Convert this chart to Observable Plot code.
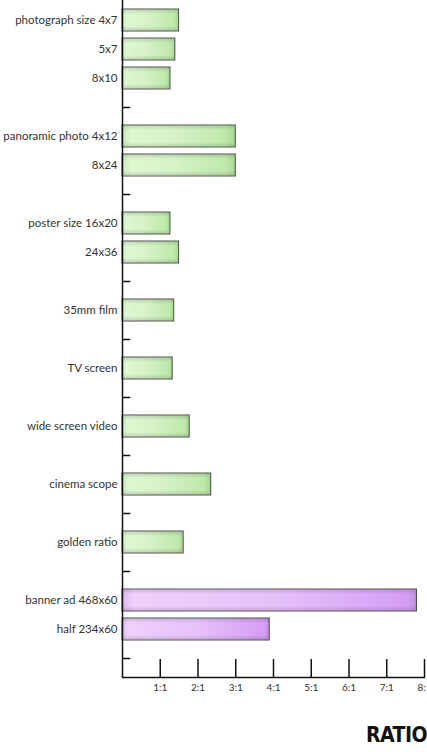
<!DOCTYPE html>
<html>
<head>
<meta charset="utf-8">
<script src="https://cdn.jsdelivr.net/npm/d3@7"></script>
<script src="https://cdn.jsdelivr.net/npm/@observablehq/plot@0.6"></script>
<style>
  html, body { margin: 0; padding: 0; background: #fff; overflow: hidden; }
  #chart { width: 427px; }
  #title { width: 427px; text-align: right; font-family: "DejaVu Sans Condensed", "DejaVu Sans", sans-serif; font-weight: bold; font-size: 21px; color: #111; margin-top: 23px; letter-spacing: -0.5px; }
</style>
</head>
<body>
<div id="chart"></div>
<div id="title">RATIO</div>
<script>
// Categories (top to bottom), separators are empty slots with a small tick
const categories = [
  "photograph size 4x7", "5x7", "8x10", "sep1",
  "panoramic photo 4x12", "8x24", "sep2",
  "poster size 16x20", "24x36", "sep3",
  "35mm film", "sep4",
  "TV screen", "sep5",
  "wide screen video", "sep6",
  "cinema scope", "sep7",
  "golden ratio", "sep8",
  "banner ad 468x60", "half 234x60", "sep9"
];
const barNames = [
  "photograph size 4x7", "5x7", "8x10",
  "panoramic photo 4x12", "8x24",
  "poster size 16x20", "24x36",
  "35mm film", "TV screen", "wide screen video", "cinema scope", "golden ratio",
  "banner ad 468x60", "half 234x60"
];
const ratios = [1.5, 1.4, 1.27, 3.0, 3.0, 1.27, 1.5, 1.37, 1.33, 1.78, 2.35, 1.62, 7.8, 3.9];
const groups = ["print", "print", "print", "print", "print", "print", "print", "print", "print", "print", "print", "print", "web", "web"];
const separators = ["sep1", "sep2", "sep3", "sep4", "sep5", "sep6", "sep7", "sep8", "sep9"];
const xTicks = [1, 2, 3, 4, 5, 6, 7, 8];
const xTickLabels = ["1:1", "2:1", "3:1", "4:1", "5:1", "6:1", "7:1", "8:1"];

const bars = barNames.map((name, i) => ({name, ratio: ratios[i], group: groups[i]}));

const defs = () => {
  const ns = "http://www.w3.org/2000/svg";
  const d = document.createElementNS(ns, "defs");
  d.innerHTML = `
    <linearGradient id="gGreen" x1="0" x2="1" y1="0" y2="0">
      <stop offset="0" stop-color="#c8ecb6"/>
      <stop offset="0.08" stop-color="#def7d2"/>
      <stop offset="0.45" stop-color="#d6f3c8"/>
      <stop offset="0.92" stop-color="#bfe8ab"/>
      <stop offset="1" stop-color="#a9d893"/>
    </linearGradient>
    <linearGradient id="gPurple" x1="0" x2="1" y1="0" y2="0">
      <stop offset="0" stop-color="#dcb6ee"/>
      <stop offset="0.04" stop-color="#f0d0fc"/>
      <stop offset="0.5" stop-color="#e6c2fa"/>
      <stop offset="0.97" stop-color="#d59ef5"/>
      <stop offset="1" stop-color="#c08ade"/>
    </linearGradient>
    <linearGradient id="gShade" x1="0" x2="0" y1="0" y2="1">
      <stop offset="0" stop-color="#000" stop-opacity="0.12"/>
      <stop offset="0.2" stop-color="#000" stop-opacity="0"/>
      <stop offset="0.8" stop-color="#000" stop-opacity="0"/>
      <stop offset="1" stop-color="#000" stop-opacity="0.12"/>
    </linearGradient>`;
  return d;
};

const chart = Plot.plot({
  width: 427,
  height: 700,
  marginLeft: 122,
  marginRight: 3,
  marginTop: 2,
  marginBottom: 23,
  style: {fontFamily: "Lato, 'Open Sans', sans-serif", color: "#333", background: "#fff", overflow: "hidden"},
  x: {domain: [0, 8], ticks: xTicks, tickFormat: (d) => xTickLabels[xTicks.indexOf(d)], label: null},
  y: {domain: categories, padding: 0.24, label: null},
  marks: [
    defs,
    Plot.barX(bars, {
      y: "name", x: "ratio",
      fill: (d) => d.group === "web" ? "url(#gPurple)" : "url(#gGreen)",
      stroke: "#4a4a4a", strokeWidth: 1
    }),
    Plot.barX(bars, {y: "name", x: "ratio", fill: "url(#gShade)", insetTop: 1, insetBottom: 1, insetLeft: 1, insetRight: 1}),
    Plot.ruleY(separators, {y: (d) => d, x1: 0, x2: 0.22, stroke: "#111", strokeWidth: 1.5}),
    Plot.ruleX(xTicks, {x: (d) => d, insetTop: 657, stroke: "#111", strokeWidth: 1.5}),
    Plot.ruleX([0], {stroke: "#111", strokeWidth: 1.5, insetTop: -2}),
    Plot.frame({anchor: "bottom", stroke: "#111", strokeWidth: 1.5}),
    Plot.axisY({
      tickSize: 0, tickPadding: 5, fontSize: 11.5, label: null,
      tickFormat: (d) => d.startsWith("sep") ? "" : d
    }),
    Plot.axisX({
      ticks: xTicks, tickSize: 0, tickPadding: 6, fontSize: 10, label: null,
      tickFormat: (d) => xTickLabels[xTicks.indexOf(d)]
    })
  ]
});
document.getElementById("chart").appendChild(chart);
</script>
</body>
</html>
